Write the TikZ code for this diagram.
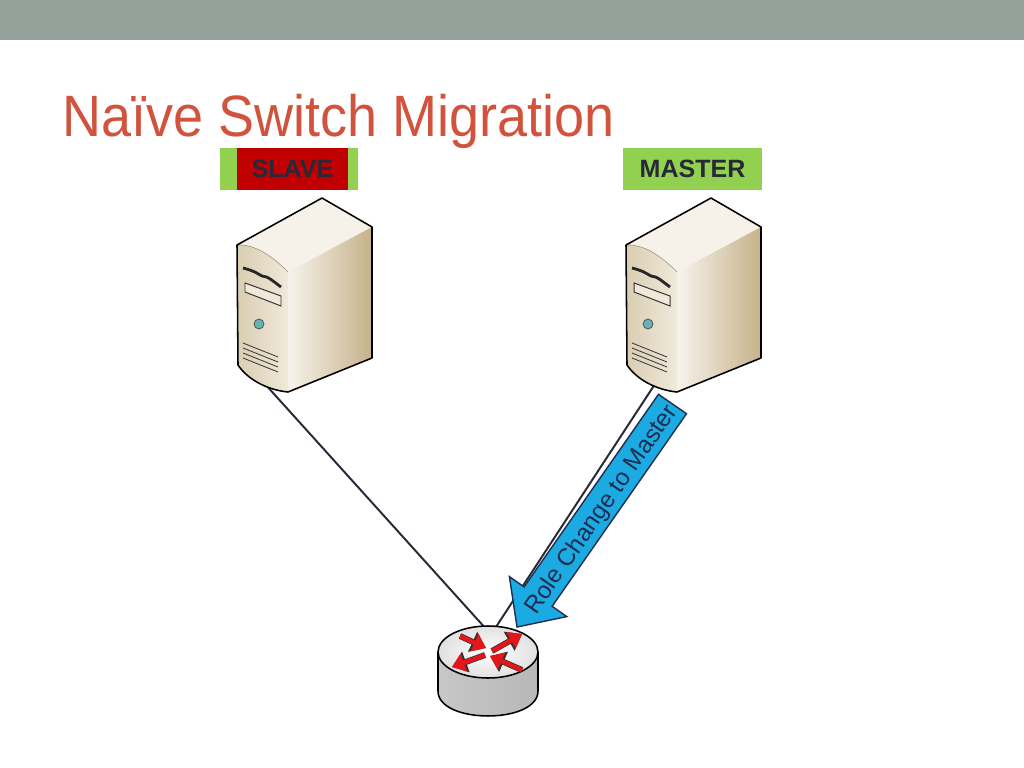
\documentclass[tikz,border=0pt]{standalone}
\usepackage{fontspec}
\setmainfont{Liberation Sans}
\usepackage{tikz}
\usetikzlibrary{arrows, arrows.meta}
\usetikzlibrary{positioning}
\usepackage{xcolor}

\definecolor{bargray}{RGB}{148,160,154}
\definecolor{titlered}{RGB}{209,83,61}
\definecolor{lblgreen}{RGB}{146,208,80}
\definecolor{slavered}{RGB}{192,0,0}
\definecolor{lbltext}{RGB}{40,40,56}
\definecolor{cablecol}{RGB}{40,42,58}
\definecolor{arrowblue}{RGB}{28,170,226}
\definecolor{arrownavy}{RGB}{31,45,80}
\definecolor{routerred}{RGB}{228,22,26}
\definecolor{srvtop}{RGB}{246,242,234}
\definecolor{srvfrontl}{RGB}{218,205,178}
\definecolor{srvfrontr}{RGB}{240,233,218}
\definecolor{srvsidel}{RGB}{247,243,236}
\definecolor{srvsider}{RGB}{198,178,138}

\begin{document}
\begin{tikzpicture}[x=0.025cm, y=-0.025cm,
  cable/.style={draw=cablecol, line width=1.4pt},
  srvline/.style={draw=black, line width=1.1pt, line join=round},
  lbl/.style={minimum height=1.05cm, inner sep=0pt, text=lbltext,
    font=\fontsize{17.8}{20}\selectfont\bfseries},
  rarrow/.style={draw=routerred, line width=3.2pt, -{Triangle[length=9pt,width=13pt]},
    preaction={draw=black!80, line width=4.2pt, -{Triangle[length=10.5pt,width=15pt]}}}]

\useasboundingbox (0,0) rectangle (1024,768);
\fill[white] (0,0) rectangle (1024,768);

%bar and title
\fill[bargray] (0,0) rectangle (1024,40);
\node[anchor=base west, inner sep=0pt, xscale=0.925, text=titlered,
  font=\fontsize{41.5}{48}\selectfont] (title) at (62,137) {Naïve Switch Migration};

%labels
\node[lbl, fill=lblgreen, minimum width=3.45cm] (slavebg) at (289,169) {};
\node[lbl, fill=slavered, minimum width=2.775cm] (slave) at (292.5,169) {SLAVE};
\node[lbl, fill=lblgreen, minimum width=3.475cm] (master) at (692.5,169) {MASTER};

%cables
\coordinate (slavefoot) at (265,384);
\coordinate (masterfoot) at (655,384);
\coordinate (routerl) at (487,630);
\coordinate (routerr) at (494,630);
\draw[cable] (slavefoot) -- (routerl);
\draw[cable] (masterfoot) -- (routerr);

%servers
\foreach \sx in {0,389}{
\begin{scope}[shift={(\sx,0)}]
\fill[srvtop] (237,245) -- (322,198) -- (372,227) -- (288,272) .. controls (272,256) and (255,244) .. (237,245);
\shade[left color=srvsidel, right color=srvsider] (288,272) -- (372,227) -- (372,358) -- (288,392) -- cycle;
\shade[left color=srvfrontl, right color=srvfrontr] (237,245) .. controls (255,244) and (272,256) .. (288,272) -- (288,392) .. controls (268,390) and (248,380) .. (238,365) -- cycle;
\draw[line width=0.4pt, draw=srvfrontl!70!black] (237,245) .. controls (255,244) and (272,256) .. (288,272);
\draw[srvline] (237,245) -- (322,198) -- (372,227) -- (372,358) -- (288,392) .. controls (268,390) and (248,380) .. (238,365) -- cycle;
% drive bays
\draw[line width=2pt, black!85] (243,268) .. controls (255,271) and (258,274) .. (262,276) .. controls (268,276) and (274,282) .. (281,287);
\filldraw[fill=srvfrontr, draw=black!80, line width=0.7pt] (245,283) -- (281,296) -- (281,306) -- (245,292) -- cycle;
\filldraw[fill=teal!60!white, draw=black!70, line width=0.5pt] (259,324) circle [radius=5];
% vents
\foreach \vy in {0,5,10,15}
  \draw[black!75, line width=0.6pt] (243,343+\vy) -- (278,357+\vy);
\end{scope}}

%router
\shade[left color=black!22, middle color=white, right color=black!28] (438,651) -- (438,691) .. controls (438,724.3) and (538,724.3) .. (538,691) -- (538,651) -- cycle;
\shade[inner color=white, outer color=black!12] (488,652) ellipse [x radius=50, y radius=26];
\draw[srvline] (438,652) -- (438,691) .. controls (438,724.3) and (538,724.3) .. (538,691) -- (538,652);
\draw[srvline] (488,652) ellipse [x radius=50, y radius=26];
\draw[rarrow] (460,636) -- (486,648);
\draw[rarrow] (492,651) -- (522,634);
\draw[rarrow] (485,655) -- (452,667);
\draw[rarrow] (522,670) -- (490,656);

%role change arrow
\filldraw[fill=arrowblue, draw=arrownavy, line width=1pt, line join=miter] (658.5,394.3) -- (686.5,413.7) -- (552.1,606.3) -- (566.8,616.6) -- (517,627) -- (509.4,576.6) -- (524.1,586.9) -- cycle;
\node[rotate=55.2, inner sep=0pt, text=arrownavy, font=\fontsize{17.2}{19}\selectfont] (rolechange) at (602,510) {Role Change to Master};

\end{tikzpicture}
\end{document}
